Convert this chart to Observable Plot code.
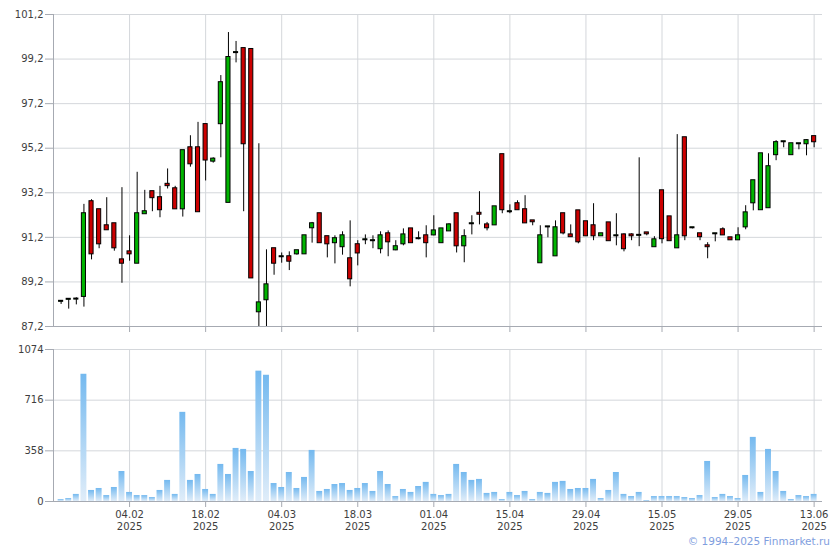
<!DOCTYPE html>
<html>
<head>
<meta charset="utf-8">
<script src="https://cdn.jsdelivr.net/npm/d3@7"></script>
<script src="https://cdn.jsdelivr.net/npm/@observablehq/plot@0.6"></script>
<style>
  html, body { margin: 0; padding: 0; background: #fff; }
  #chart { position: relative; width: 840px; height: 550px; font-family: "DejaVu Sans", Verdana, sans-serif; }
  #chart svg { display: block; }
  #copy { position: absolute; right: 10px; top: 535px; font-size: 10.5px; color: #7f9ede; white-space: nowrap; }
</style>
</head>
<body>
<div id="chart"></div>
<script>
// ---- data ----
const openP = [88.33,88.42,88.43,88.55,92.80,92.44,91.72,91.81,90.19,90.55,
  90.04,92.26,93.25,92.98,93.58,93.38,92.48,95.22,95.22,96.26,
  94.62,96.30,92.77,99.49,99.67,99.63,87.86,88.40,90.69,90.33,
  90.33,90.46,90.46,91.63,92.26,91.23,90.96,90.78,90.24,90.87,
  91.09,91.05,90.69,91.36,90.64,90.91,91.58,91.14,91.27,91.31,
  90.96,91.49,92.26,90.82,91.81,92.28,91.76,91.76,94.91,92.35,
  92.71,92.44,91.94,90.06,91.67,90.37,92.26,91.31,92.39,91.90,
  91.72,91.27,91.85,91.27,91.31,91.31,91.29,91.40,90.78,93.29,
  92.12,90.73,95.67,91.63,91.36,90.82,91.36,91.54,91.18,91.09,
  91.67,92.75,92.44,92.53,94.91,95.49,94.91,95.40,95.40,95.72];
const highP = [88.33,88.42,88.49,92.68,92.89,92.44,92.98,91.81,93.43,91.27,
  94.12,93.31,93.25,93.49,94.27,93.49,95.09,95.76,96.36,96.26,
  94.77,98.46,100.39,99.99,99.67,99.63,95.40,90.64,90.69,90.50,
  90.55,90.60,91.27,91.87,92.26,91.23,91.27,91.45,91.94,91.05,
  91.31,91.27,91.45,91.49,91.05,91.58,91.58,91.45,91.72,92.17,
  91.58,91.81,92.26,91.54,92.17,93.25,91.87,92.57,94.91,92.66,
  92.84,93.07,91.94,91.72,91.67,91.94,92.26,91.76,92.39,91.90,
  92.71,91.36,91.85,92.26,91.36,91.36,94.77,91.40,91.23,93.29,
  92.12,95.81,95.67,91.63,91.36,90.96,91.36,91.63,91.18,91.63,
  92.62,93.74,94.95,94.95,95.54,95.49,95.40,95.40,95.58,95.72];
const lowP = [88.19,87.98,88.17,88.07,90.19,90.69,91.54,90.58,89.14,90.13,
  90.04,92.26,92.35,92.08,93.37,92.48,92.11,94.35,92.35,93.73,
  94.53,94.77,92.77,99.03,92.35,89.38,86.90,86.90,89.50,90.04,
  89.71,90.40,90.46,90.94,90.96,90.28,90.01,90.40,88.98,89.92,
  90.87,90.69,90.46,90.33,90.60,90.82,90.96,91.09,90.28,91.27,
  90.96,91.49,90.50,90.06,91.31,91.76,91.49,91.76,92.26,92.26,
  92.44,91.85,91.72,90.06,91.18,90.37,91.31,91.23,90.91,91.27,
  91.05,91.27,91.05,90.82,90.55,91.05,90.78,91.27,90.78,90.91,
  91.05,90.73,91.05,91.58,91.05,90.24,91.00,91.31,91.09,91.09,
  91.54,92.39,92.44,92.53,94.64,95.22,94.91,95.13,94.86,95.22];
const closeP = [88.33,88.42,88.43,92.26,90.46,90.91,91.54,90.73,90.04,90.46,
  92.26,92.35,92.98,92.44,93.52,92.48,95.09,94.50,92.35,94.67,
  94.71,98.14,99.27,99.49,95.40,89.38,88.26,89.07,90.04,90.33,
  90.13,90.60,91.27,91.81,90.96,90.91,91.14,91.27,89.34,90.50,
  91.09,91.05,91.27,91.00,90.78,91.31,90.96,91.14,90.96,91.49,
  91.58,91.76,90.82,91.23,91.81,92.24,91.63,92.57,92.44,92.35,
  92.44,91.85,91.90,91.27,91.67,91.63,91.40,91.23,91.00,91.27,
  91.27,91.36,91.05,91.27,90.69,91.27,91.29,91.36,91.09,91.14,
  91.05,91.27,91.27,91.63,91.23,90.78,91.36,91.31,91.09,91.27,
  92.30,93.74,94.95,94.37,95.45,95.49,95.40,95.40,95.54,95.49];
const volume = [14,21,50,899,78,92,42,99,212,64,
  42,42,28,78,149,50,630,149,191,85,
  50,262,191,375,368,212,921,892,127,99,
  205,92,170,361,71,85,120,127,78,92,
  127,71,212,120,35,85,64,106,135,50,
  42,50,262,205,149,156,57,64,14,64,
  42,71,14,64,57,135,142,85,92,92,
  156,21,78,205,50,35,64,7,35,35,
  35,35,28,21,42,283,28,50,35,21,
  184,453,64,368,212,71,14,42,35,50];

// x axis: trading-day index of each labelled date
const tickIndex = [9,19,29,39,49,59,69,79,89,99];
const tickDates = ["04.02","18.02","04.03","18.03","01.04","15.04","29.04","15.05","29.05","13.06"];
const tickYear = "2025";
const priceTicks = [87.2,89.2,91.2,93.2,95.2,97.2,99.2,101.2];
const volumeTicks = [0,358,716,1074];

// ---- build table ----
const rows = openP.map((o, i) => ({i, o, h: highP[i], l: lowP[i], c: closeP[i], v: volume[i]}));
const labelOf = new Map(tickIndex.map((t, k) => [t, tickDates[k] + "\n" + tickYear]));

const GRID = "#d4d7db", AXIS = "#a6aab2", TEXT = "#3e3e3e";
const xDomain = [-1, 100.1];
const font = {fontFamily: '"DejaVu Sans", Verdana, sans-serif', fontSize: "10px", color: TEXT, background: "#fff"};

const topPlot = Plot.plot({
  width: 840, height: 334,
  marginTop: 14, marginLeft: 53, marginRight: 18, marginBottom: 8,
  style: font,
  x: {domain: xDomain, axis: null},
  y: {domain: [87.2, 101.2], axis: null},
  marks: [
    Plot.gridY(priceTicks, {stroke: GRID, strokeOpacity: 1}),
    Plot.gridX(tickIndex, {stroke: GRID, strokeOpacity: 1}),
    Plot.axisX(tickIndex, {tickFormat: () => "", tickSize: 6, stroke: AXIS, label: null}),
    Plot.axisY(priceTicks, {tickFormat: d => d.toFixed(1).replace(".", ","), tickSize: 8, tickPadding: 2, stroke: AXIS, fill: TEXT, label: null}),
    Plot.ruleY([87.2], {stroke: AXIS}),
    Plot.ruleX([-1], {stroke: AXIS}),
    Plot.ruleX(rows, {x: "i", y1: "l", y2: "h", stroke: "#000", strokeWidth: 1, clip: true}),
    Plot.rect(rows, {
      x1: d => d.i - 0.27, x2: d => d.i + 0.27, y1: "o", y2: "c",
      insetTop: -0.5, insetBottom: -0.5,
      fill: d => d.c >= d.o ? "#00b400" : "#cc0000",
      stroke: "#000", strokeWidth: 1, clip: true
    })
  ]
});

const gradDefs = () => {
  const defs = d3.create("svg:defs");
  const g = defs.append("linearGradient").attr("id", "volGrad").attr("x1", 0).attr("y1", 0).attr("x2", 0).attr("y2", 1);
  g.append("stop").attr("offset", "0%").attr("stop-color", "#74b9ef");
  g.append("stop").attr("offset", "100%").attr("stop-color", "#e0edf9");
  return defs.node();
};

const volPlot = Plot.plot({
  width: 840, height: 216,
  marginTop: 15, marginLeft: 53, marginRight: 18, marginBottom: 49,
  style: font,
  x: {domain: xDomain, axis: null},
  y: {domain: [0, 1074], axis: null},
  marks: [
    gradDefs,
    Plot.gridY(volumeTicks, {stroke: GRID, strokeOpacity: 1}),
    Plot.gridX(tickIndex, {stroke: GRID, strokeOpacity: 1}),
    Plot.rectY(rows, {x1: d => d.i - 0.39, x2: d => d.i + 0.39, y: "v", fill: "url(#volGrad)"}),
    Plot.axisX(tickIndex, {tickFormat: d => labelOf.get(d), tickSize: 6, tickPadding: 2, stroke: AXIS, fill: TEXT, lineHeight: 1.2, label: null}),
    Plot.axisY(volumeTicks, {tickFormat: d => String(d), tickSize: 8, tickPadding: 2, stroke: AXIS, fill: TEXT, label: null}),
    Plot.ruleY([0], {stroke: AXIS}),
    Plot.ruleX([-1], {stroke: AXIS})
  ]
});

const chart = document.getElementById("chart");
chart.appendChild(topPlot);
chart.appendChild(volPlot);
const copy = document.createElement("div");
copy.id = "copy";
copy.textContent = "© 1994–2025 Finmarket.ru";
chart.appendChild(copy);
</script>
</body>
</html>
